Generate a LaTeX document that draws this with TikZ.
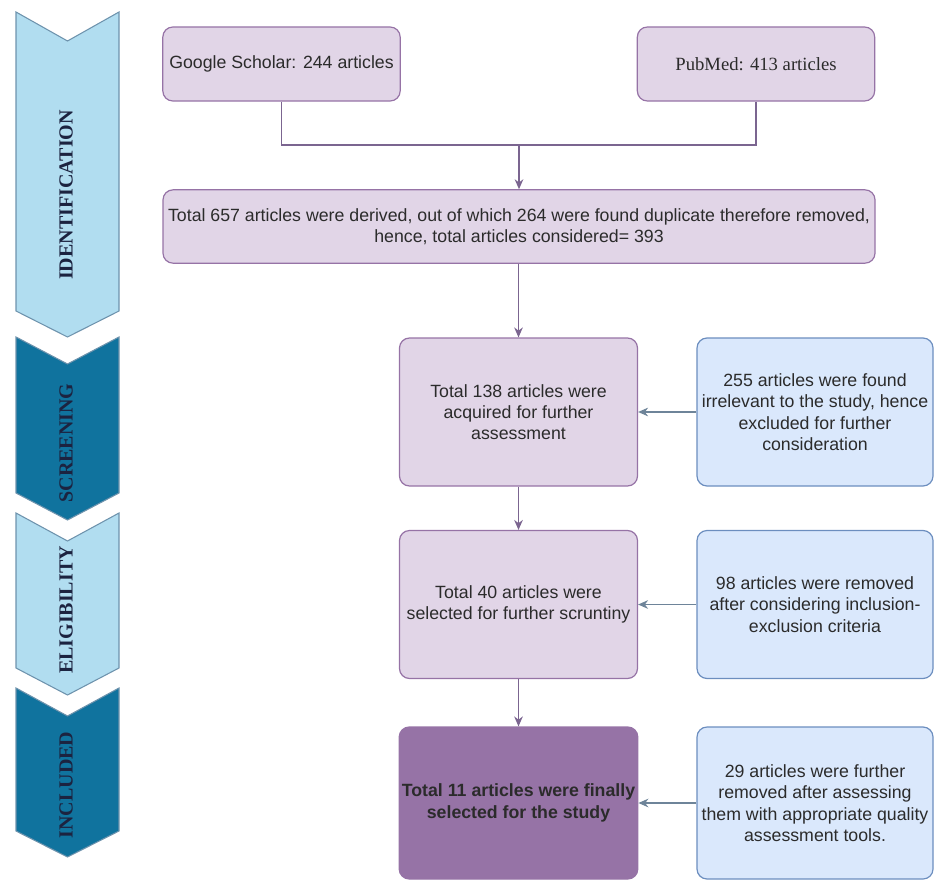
\documentclass[tikz,border=0pt]{standalone}
\usepackage{fontspec}
\setmainfont{Liberation Sans}
\newfontfamily\pmfont{Liberation Serif}
\newfontfamily\stagefont{Liberation Serif}
\usetikzlibrary{arrows.meta}
\definecolor{lilac}{HTML}{E1D5E7}
\definecolor{lilacline}{HTML}{9673A6}
\definecolor{plum}{HTML}{9673A6}
\definecolor{skyfill}{HTML}{DAE8FC}
\definecolor{skyline}{HTML}{6C8EBF}
\definecolor{stagelight}{HTML}{B1DDF0}
\definecolor{stagedark}{HTML}{10739E}
\definecolor{stageline}{HTML}{6E93AD}
\definecolor{stagetext}{HTML}{1C2340}
\definecolor{vline}{HTML}{7B6590}
\definecolor{hline}{HTML}{6E8499}
\definecolor{ink}{HTML}{2B2B2B}
\begin{document}
\begin{tikzpicture}[x=0.75pt,y=-0.75pt,
		box/.style={draw=lilacline,fill=lilac,line width=0.9pt,rounded corners=7.5pt,
			align=center,text=ink,inner sep=2pt,font=\fontsize{13.3}{16}\selectfont},
		sidebox/.style={box,draw=skyline,fill=skyfill},
		finalbox/.style={box,fill=plum,font=\fontsize{13.3}{16}\selectfont\bfseries},
		stage/.style={line width=0.8pt,draw=stageline},
		stagelabel/.style={rotate=90,text=stagetext,font=\stagefont\fontsize{15}{17}\selectfont\bfseries},
		vlink/.style={draw=vline,line width=0.9pt},
		varrow/.style={vlink,-{Stealth[length=7.5pt,width=6.5pt]}},
		harrow/.style={draw=hline,line width=1pt,-{Stealth[length=7.5pt,width=6.5pt]}}]
				% Frame
				\useasboundingbox (0,0) rectangle (934,881);
				% Stage chevrons
				\draw[stage,fill=stagelight] (16,12) -- (67.5,41) -- (119,12) -- (119,311) -- (67.5,337) -- (16,311) -- cycle;
				\draw[stage,fill=stagedark] (16,337) -- (67.5,364) -- (119,337) -- (119,493) -- (67.5,520) -- (16,493) -- cycle;
				\draw[stage,fill=stagelight] (16,513) -- (67.5,541) -- (119,513) -- (119,668) -- (67.5,695) -- (16,668) -- cycle;
				\draw[stage,fill=stagedark] (16,688) -- (67.5,716) -- (119,688) -- (119,831) -- (67.5,857) -- (16,831) -- cycle;
				\node[stagelabel] (identification) at (66,195) {IDENTIFICATION};
				\node[stagelabel] (screening) at (66,443) {SCREENING};
				\node[stagelabel] (eligibility) at (66,610) {ELIGIBILITY};
				\node[stagelabel] (included) at (66,785) {INCLUDED};
				% Sources
				\node[box,minimum width=178pt,minimum height=55.5pt] (scholar) at (281.5,64) {Google Scholar: 244 articles};
				\node[box,minimum width=178pt,minimum height=55.5pt] (pubmed) at (756,64) {\pmfont\fontsize{14}{16}\selectfont PubMed: 413 articles};
				% Main column
				\node[box,minimum width=534pt,minimum height=55pt] (total) at (519,226.5)
					{Total 657 articles were derived, out of which 264 were found duplicate therefore removed,\\hence, total articles considered= 393};
				\node[box,minimum width=178.5pt,minimum height=111pt] (acquired) at (518.5,412)
					{Total 138 articles were\\acquired for further\\assessment};
				\node[box,minimum width=178.5pt,minimum height=111pt] (selected) at (518.5,604.5)
					{Total 40 articles were\\selected for further scruntiny};
				\node[finalbox,minimum width=178.5pt,minimum height=114pt] (final) at (518.5,803)
					{Total 11 articles were finally\\selected for the study};
				% Exclusions
				\node[sidebox,minimum width=177pt,minimum height=111pt] (irrelevant) at (815,412)
					{255 articles were found\\irrelevant to the study, hence\\excluded for further\\consideration};
				\node[sidebox,minimum width=177pt,minimum height=111pt] (criteria) at (815,604.5)
					{98 articles were removed\\after considering inclusion-\\exclusion criteria};
				\node[sidebox,minimum width=177pt,minimum height=114pt] (quality) at (815,803)
					{29 articles were further\\removed after assessing\\them with appropriate quality\\assessment tools.};
				% Connectors
				\coordinate (merge) at (519,145);
				\draw[vlink] (scholar.south) |- (merge);
				\draw[vlink] (pubmed.south) |- (merge);
				\draw[varrow] (merge) -- (total.north);
				\draw[varrow] (total.south -| acquired.north) -- (acquired.north);
				\draw[varrow] (acquired) -- (selected);
				\draw[varrow] (selected) -- (final);
				\draw[harrow] (irrelevant) -- (acquired);
				\draw[harrow] (criteria) -- (selected);
				\draw[harrow] (quality) -- (final);
			\end{tikzpicture}
\end{document}
